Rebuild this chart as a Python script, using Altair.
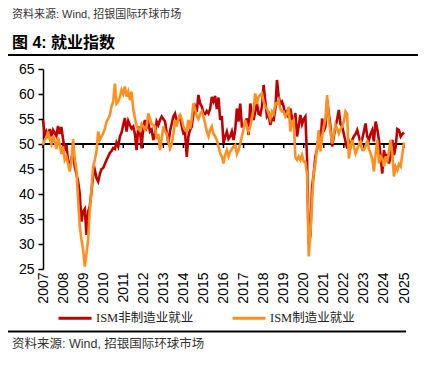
import altair as alt
import pandas as pd

# ISM non-manufacturing employment index, monthly Jan 2007 .. Jan 2025
nonmfg = [
    54.8, 51.8, 52.5, 51.2, 53.0, 51.5, 52.8, 52.2, 51.6, 53.6, 52.0, 53.4,  # 2007
    51.0, 48.6, 49.8, 46.5, 45.6, 47.2, 48.5, 45.5, 44.0, 42.5, 40.0, 34.5,  # 2008
    36.5, 37.0, 31.8, 36.5, 37.5, 40.5, 43.8, 44.8, 43.2, 42.5, 44.0, 45.0,  # 2009
    45.2, 46.0, 46.8, 47.5, 48.2, 48.6, 49.2, 49.0, 50.3, 49.5, 51.5, 52.3,  # 2010
    53.8, 55.2, 52.5, 54.6, 53.8, 53.1, 53.5, 52.0, 48.8, 53.5, 52.6, 49.1,  # 2011
    53.5, 54.8, 53.3, 54.2, 52.5, 52.9, 50.8, 52.0, 54.5, 53.8, 54.8, 55.5,  # 2012
    55.0, 54.5, 52.3, 50.1, 52.6, 54.0, 55.5, 56.1, 54.6, 54.8, 55.8, 53.6,  # 2013
    52.1, 52.3, 47.4, 51.6, 52.8, 53.5, 56.0, 57.5, 56.5, 59.8, 58.1, 57.5,  # 2014
    56.2, 56.0, 56.6, 56.1, 57.0, 59.4, 58.5, 59.6, 57.0, 59.3, 54.8, 55.6,  # 2015
    50.1, 51.5, 52.5, 51.0, 51.5, 52.5, 50.8, 52.8, 57.1, 54.5, 58.1, 53.5,  # 2016
    53.5, 54.2, 55.1, 51.8, 58.1, 56.0, 54.8, 56.5, 58.1, 56.0, 55.8, 57.5,  # 2017
    61.8, 58.5, 55.5, 56.0, 53.8, 55.0, 54.8, 57.0, 62.8, 59.5, 58.1, 58.5,  # 2018
    57.5, 55.5, 56.8, 55.2, 57.1, 55.0, 53.5, 56.2, 51.5, 53.7, 55.8, 54.0,  # 2019
    55.0, 55.5, 47.0, 30.0, 31.8, 41.5, 44.1, 47.5, 49.0, 51.5, 50.0, 55.1,  # 2020
    52.5, 53.5, 58.8, 56.0, 53.5, 49.5, 51.5, 53.5, 55.0, 56.8, 54.0, 53.5,  # 2021
    52.0, 50.5, 49.1, 50.5, 49.5, 50.8, 51.5, 52.0, 52.8, 51.5, 50.1, 51.0,  # 2022
    52.5, 54.1, 51.5, 50.8, 52.0, 52.8, 50.5, 54.5, 53.0, 50.8, 47.5, 44.1,  # 2023
    48.8, 46.8, 48.0, 46.1, 47.5, 50.8, 47.8, 49.5, 53.0, 52.8, 51.5, 52.0,  # 2024
    52.3,                                                                    # 2025
]

# ISM manufacturing employment index, monthly Jan 2007 .. Jan 2025
mfg = [
    49.8, 50.8, 51.2, 52.5, 51.0, 50.0, 51.6, 50.5, 49.0, 51.3, 50.0, 48.0,  # 2007
    49.5, 46.8, 47.5, 46.0, 44.5, 46.5, 51.0, 47.0, 44.8, 38.8, 33.5, 30.9,  # 2008
    28.9, 25.5, 28.0, 30.9, 36.9, 41.0, 45.5, 46.8, 48.5, 52.5, 50.8, 51.5,  # 2009
    52.1, 53.0, 54.5, 55.0, 55.8, 57.5, 58.5, 62.1, 58.1, 58.5, 59.4, 60.8,  # 2010
    60.0, 61.5, 59.5, 60.5, 58.8, 60.5, 57.0, 55.2, 53.6, 53.0, 52.7, 54.0,  # 2011
    53.5, 52.8, 53.5, 56.1, 55.1, 54.0, 53.8, 53.5, 51.0, 52.0, 48.8, 51.0,  # 2012
    53.5, 52.5, 52.1, 50.5, 49.1, 50.0, 52.0, 54.8, 53.5, 55.0, 55.8, 55.0,  # 2013
    53.5, 52.8, 52.5, 54.8, 53.0, 55.0, 58.1, 57.0, 55.5, 55.0, 56.0, 56.5,  # 2014
    55.5, 54.1, 52.5, 51.5, 52.8, 53.5, 52.0, 51.5, 50.8, 49.5, 48.1, 47.5,  # 2015
    46.1, 47.8, 48.8, 47.5, 48.5, 49.0, 49.5, 49.8, 48.0, 48.8, 50.0, 51.5,  # 2016
    53.0, 54.8, 53.5, 52.5, 53.5, 55.1, 57.0, 60.1, 58.0, 59.4, 59.8, 60.1,  # 2017
    58.5, 57.5, 57.0, 56.1, 55.0, 56.5, 56.0, 58.1, 58.0, 58.8, 57.0, 56.5,  # 2018
    56.5, 55.5, 56.0, 57.5, 52.5, 54.5, 54.8, 47.4, 46.8, 47.5, 46.8, 47.8,  # 2019
    46.5, 46.4, 43.8, 27.5, 32.1, 38.8, 44.3, 46.1, 49.6, 52.8, 48.5, 51.5,  # 2020
    53.5, 55.0, 59.8, 55.1, 52.5, 50.1, 52.0, 53.8, 53.0, 52.1, 53.0, 53.5,  # 2021
    54.5, 56.5, 56.0, 47.1, 49.5, 50.8, 49.5, 48.1, 49.0, 49.8, 50.5, 48.8,  # 2022
    48.8, 49.5, 50.8, 49.0, 48.1, 47.0, 44.5, 48.0, 50.8, 46.1, 47.5, 47.1,  # 2023
    45.5, 47.5, 46.4, 48.5, 50.8, 48.0, 43.5, 45.5, 44.8, 46.0, 45.5, 48.0,  # 2024
    50.3,                                                                    # 2025
]

series_names = ["ISM非制造业就业", "ISM制造业就业"]
series_colors = ["#C00000", "#FF8F1F"]
year_ticks = list(range(2007, 2026))
y_ticks = [25, 30, 35, 40, 45, 50, 55, 60, 65]

title_text = "图 4: 就业指数"
source_text = "资料来源: Wind, 招银国际环球市场"

t = [2007 + i / 12 for i in range(len(nonmfg))]
df_red = pd.DataFrame({"t": t, "v": nonmfg, "s": series_names[0]})
df_org = pd.DataFrame({"t": t, "v": mfg, "s": series_names[1]})
df_years = pd.DataFrame({"yr": year_ticks})

W, H = 361, 200
FONT = "Liberation Sans, Arial, Noto Sans CJK SC"
CJK = "Liberation Sans, Noto Sans CJK SC"

xscale = alt.Scale(domain=[2007, 2025], nice=False, zero=False)
yscale = alt.Scale(domain=[25, 65], nice=False, zero=False)
cscale = alt.Scale(domain=series_names, range=series_colors)

xaxis = alt.Axis(values=year_ticks, format="d", labelAngle=-90, domain=False,
                 ticks=False, grid=False, labelPadding=3, labelFontSize=14,
                 labelFont=FONT, labelColor="black", title=None,
                 labelOverlap=False, labelFlush=False, labelBound=False)
yaxis = alt.Axis(values=y_ticks, tickSize=5, labelFontSize=14, labelFont=FONT,
                 labelColor="black", domainColor="black", tickColor="black",
                 domainWidth=1.5, tickWidth=1.5, grid=False, labelPadding=4,
                 title=None, labelOverlap=False, labelFlush=False)

legend = alt.Legend(orient="none", legendX=14, legendY=231, direction="horizontal",
                    title=None, symbolType="stroke", symbolSize=1089,
                    symbolStrokeWidth=3, labelFontSize=12.5,
                    labelFont="Liberation Serif, Noto Sans CJK SC",
                    labelColor="#222", columnPadding=32, labelOffset=3,
                    padding=0, labelLimit=300)

base_line = alt.Chart(df_red).mark_rule(color="black", strokeWidth=2).encode(
    x=alt.datum(2007, scale=xscale, axis=xaxis, type="quantitative"),
    x2=alt.datum(2025),
    y=alt.datum(50, scale=yscale, axis=yaxis, type="quantitative"),
)

ticks50 = alt.Chart(df_years).mark_rule(color="black", strokeWidth=1.5).encode(
    x=alt.X("yr:Q", scale=xscale, axis=xaxis),
    y=alt.datum(50, scale=yscale, axis=yaxis, type="quantitative"),
    y2=alt.datum(49.2),
)

line_red = alt.Chart(df_red).mark_line(strokeWidth=2.6).encode(
    x=alt.X("t:Q", scale=xscale, axis=xaxis),
    y=alt.Y("v:Q", scale=yscale, axis=yaxis),
    color=alt.Color("s:N", scale=cscale, legend=legend),
)
line_org = alt.Chart(df_org).mark_line(strokeWidth=2.6).encode(
    x=alt.X("t:Q", scale=xscale, axis=xaxis),
    y=alt.Y("v:Q", scale=yscale, axis=yaxis),
    color=alt.Color("s:N", scale=cscale, legend=legend),
)

ann = pd.DataFrame({"a": [0]})
top_src = alt.Chart(ann).mark_text(align="left", baseline="top", fontSize=11,
                                   font=CJK, color="#333").encode(
    x=alt.value(-31), y=alt.value(-60), text=alt.value(source_text))
title = alt.Chart(ann).mark_text(align="left", baseline="middle", fontSize=16,
                                 fontWeight="bold", font=CJK, color="black").encode(
    x=alt.value(-31), y=alt.value(-26.5), text=alt.value(title_text))
top_rule = alt.Chart(ann).mark_rule(color="black", strokeWidth=2.2).encode(
    x=alt.value(-35), x2=alt.value(375), y=alt.value(-14))
bot_rule = alt.Chart(ann).mark_rule(color="black", strokeWidth=2.2).encode(
    x=alt.value(-35), x2=alt.value(363), y=alt.value(262.5))
bot_src = alt.Chart(ann).mark_text(align="left", baseline="middle", fontSize=12.5,
                                   font=CJK, color="#333").encode(
    x=alt.value(-31), y=alt.value(275), text=alt.value(source_text))

chart = alt.layer(
    base_line, ticks50, line_red, line_org,
    top_src, title, top_rule, bot_rule, bot_src,
).properties(
    width=W, height=H,
    autosize=alt.AutoSizeParams(type="none"),
    padding={"left": 35, "top": 61, "right": 23, "bottom": 91},
).configure_view(stroke=None).configure_axis(labelOverlap=False)

chart.save("out.html", embed_options={"renderer": "svg", "actions": False})
